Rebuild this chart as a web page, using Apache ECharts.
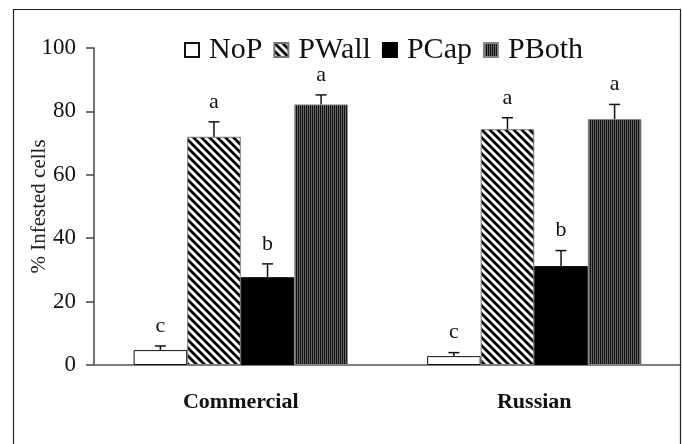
<!DOCTYPE html>
<html>
<head>
<meta charset="utf-8">
<script src="https://cdn.jsdelivr.net/npm/echarts@6/dist/echarts.min.js"></script>
<style>
html,body{margin:0;padding:0;background:#fff;}
#chart{width:682px;height:444px;}
</style>
</head>
<body>
<div id="chart"></div>
<script>
var categories = ['Commercial', 'Russian'];
var seriesNames = ['NoP', 'PWall', 'PCap', 'PBoth'];
var noP = [4.7, 2.8];
var pWall = [72.0, 74.4];
var pCap = [27.7, 31.2];
var pBoth = [82.2, 77.6];
var noPErr = [1.3, 1.1];
var pWallErr = [4.7, 3.6];
var pCapErr = [4.2, 4.9];
var pBothErr = [3.0, 4.6];
var noPLetters = ['c', 'c'];
var pWallLetters = ['a', 'a'];
var pCapLetters = ['b', 'b'];
var pBothLetters = ['a', 'a'];
var yTicks = [0, 20, 40, 60, 80, 100];

var FONT = '"Liberation Serif", "Times New Roman", serif';

function makeDiag() {
  var c = document.createElement('canvas');
  c.width = 8; c.height = 8;
  var g = c.getContext('2d');
  g.fillStyle = '#fff'; g.fillRect(0, 0, 8, 8);
  g.strokeStyle = '#000'; g.lineWidth = 2.8;
  g.beginPath();
  g.moveTo(-2, -2); g.lineTo(10, 10);
  g.moveTo(-2, 6); g.lineTo(2, 10);
  g.moveTo(6, -2); g.lineTo(10, 2);
  g.stroke();
  return c;
}
function makeVert() {
  var c = document.createElement('canvas');
  c.width = 2; c.height = 2;
  var g = c.getContext('2d');
  g.fillStyle = '#111'; g.fillRect(0, 0, 2, 2);
  g.fillStyle = '#666'; g.fillRect(1, 0, 1, 2);
  return c;
}

var styles = [
  { color: '#ffffff', borderColor: '#111', borderWidth: 1 },
  { color: { image: makeDiag(), repeat: 'repeat' }, borderColor: '#777', borderWidth: 1 },
  { color: '#000000', borderColor: '#000', borderWidth: 1 },
  { color: { image: makeVert(), repeat: 'repeat' }, borderColor: '#888', borderWidth: 1 }
];
var values = [noP, pWall, pCap, pBoth];
var errs = [noPErr, pWallErr, pCapErr, pBothErr];
var letters = [noPLetters, pWallLetters, pCapLetters, pBothLetters];
var GAP = 0.27;

var series = [];
seriesNames.forEach(function (name, i) {
  series.push({
    name: name, type: 'bar', data: values[i],
    barGap: '0%', barCategoryGap: '27%',
    itemStyle: styles[i],
    emphasis: { disabled: true },
    z: 2
  });
});
seriesNames.forEach(function (name, i) {
  var data = categories.map(function (c, k) {
    return [k, values[i][k], errs[i][k], letters[i][k]];
  });
  series.push({
    type: 'custom', data: data, z: 5, silent: true,
    encode: { x: 0, y: 1 },
    renderItem: function (params, api) {
      var k = api.value(0);
      var v = api.value(1);
      var e = api.value(2);
      var letter = data[params.dataIndex][3];
      var band = api.size([1, 0])[0];
      var total = band * (1 - GAP);
      var bw = total / 4;
      var base = api.coord([k, v]);
      var top = api.coord([k, v + e]);
      var x = base[0] - total / 2 + (i + 0.5) * bw;
      var cap = 5.5;
      var st = { stroke: '#111', lineWidth: 1.5 };
      return {
        type: 'group',
        children: [
          { type: 'line', shape: { x1: x, y1: base[1], x2: x, y2: top[1] }, style: st },
          { type: 'line', shape: { x1: x - cap, y1: top[1], x2: x + cap, y2: top[1] }, style: st },
          { type: 'text', style: { text: letter, x: x, y: top[1] - 9, align: 'center', verticalAlign: 'bottom',
            font: '22px ' + FONT, fill: '#111' } }
        ]
      };
    }
  });
});

var chart = echarts.init(document.getElementById('chart'), null, { renderer: 'canvas' });
chart.setOption({
  animation: false,
  backgroundColor: '#fff',
  graphic: [{
    type: 'rect', shape: { x: 13.5, y: 9.5, width: 667, height: 460 },
    style: { fill: null, stroke: '#222', lineWidth: 1.2 }, z: 0, silent: true
  }],
  legend: {
    data: seriesNames, left: 179, top: 30,
    itemWidth: 14, itemHeight: 14, itemGap: 11,
    icon: 'rect',
    textStyle: { fontFamily: FONT, fontSize: 30, color: '#111', padding: [0, 0, 0, 5] },
    selectedMode: false
  },
  grid: { left: 94, right: 1, top: 48, bottom: 79, containLabel: false },
  xAxis: {
    type: 'category', data: categories,
    axisLine: { lineStyle: { color: '#555', width: 1.5 } },
    axisTick: { show: false },
    axisLabel: { fontFamily: FONT, fontSize: 22, fontWeight: 'bold', color: '#111', margin: 26 }
  },
  yAxis: {
    type: 'value', min: 0, max: 100, interval: 20,
    name: '% Infested cells', nameLocation: 'middle', nameGap: 44, nameRotate: 90,
    nameMoveOverlap: false,
    nameTextStyle: { fontFamily: FONT, fontSize: 21, color: '#222' },
    axisLine: { show: true, lineStyle: { color: '#444', width: 1.5 } },
    axisTick: { show: true, inside: false, length: 8, lineStyle: { color: '#444', width: 1.5 } },
    splitLine: { show: false },
    axisLabel: { fontFamily: FONT, fontSize: 23, color: '#111', margin: 18,
      formatter: function (v) { return yTicks.indexOf(v) >= 0 ? String(v) : ''; } }
  },
  series: series
});
</script>
</body>
</html>
